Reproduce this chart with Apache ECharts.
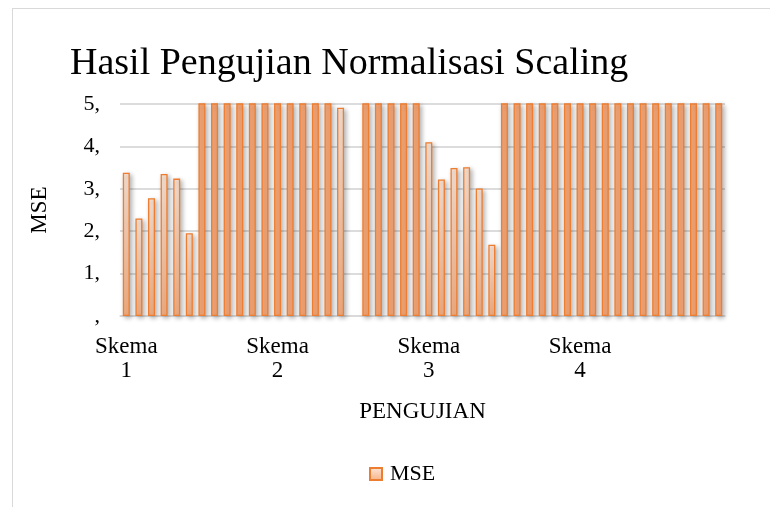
<!DOCTYPE html>
<html>
<head>
<meta charset="utf-8">
<script src="https://cdn.jsdelivr.net/npm/echarts@6/dist/echarts.min.js"></script>
<style>
    html, body { margin: 0; padding: 0; background: #fff; }
    #main { width: 770px; height: 507px; position: relative; }
    .frame {
        position: absolute; left: 12px; top: 8px; right: -10px; bottom: -10px;
        border: 1px solid #d9d9d9; pointer-events: none;
    }
</style>
</head>
<body>
<div id="main"></div>
<script>
    // data (bars above 5 are cut off by the axis)
    const skemaNames = ['Skema 1', 'Skema 2', 'Skema 3', 'Skema 4'];
    const testsPerSkema = 12;
    const mse = [
        3.38, 2.30, 2.78, 3.35, 3.24, 1.95, 9.8, 12.4, 8.7, 14.1, 10.6, 11.2,
        13.5, 9.1, 15.3, 10.2, 12.8, 4.91, null, 11.7, 9.4, 13.9, 10.8, 12.1,
        4.10, 3.22, 3.49, 3.51, 3.01, 1.68, 18.2, 21.5, 16.7, 19.9, 22.4, 17.6,
        20.3, 18.8, 23.1, 19.4, 21.9, 17.2, 20.7, 22.8, 18.4, 19.6, 21.2, 20.1
    ];
    const yTicks = [0, 1, 2, 3, 4, 5];

    const yMax = yTicks[yTicks.length - 1];
    const categories = skemaNames.flatMap(s => Array(testsPerSkema).fill(s));
    const font = "'Liberation Serif', 'Times New Roman', serif";

    const paleFill = new echarts.graphic.LinearGradient(0, 0, 0, 1, [
        { offset: 0, color: '#fde7d9' },
        { offset: 1, color: '#f8b285' }
    ]);

    let myChart = echarts.init(document.getElementById('main'));
    let option = {
        animation: false,
        textStyle: { fontFamily: font, color: '#000' },
        title: {
            text: 'Hasil Pengujian Normalisasi Scaling',
            left: 70,
            top: 45,
            padding: 0,
            textStyle: { fontFamily: font, fontSize: 38, fontWeight: 'normal', color: '#000' }
        },
        grid: { left: 120, right: 45, top: 104, bottom: 191, containLabel: false },
        legend: {
            bottom: 17,
            left: 364,
            icon: 'rect',
            itemWidth: 12,
            itemHeight: 12,
            itemGap: 4,
            textStyle: { fontFamily: font, fontSize: 22, color: '#000', padding: [0, 0, 0, 3] },
            data: ['MSE']
        },
        xAxis: {
            type: 'category',
            data: categories,
            name: 'PENGUJIAN',
            nameLocation: 'middle',
            nameGap: 84,
            nameTextStyle: { fontFamily: font, fontSize: 23, color: '#000' },
            axisLine: { lineStyle: { color: '#d9d9d9', width: 1.5 } },
            axisTick: { show: false },
            axisLabel: {
                interval: testsPerSkema - 1,
                margin: 19,
                fontSize: 23,
                lineHeight: 24,
                color: '#000',
                formatter: v => v.replace(' ', '\n')
            }
        },
        yAxis: {
            type: 'value',
            min: 0,
            max: yMax,
            interval: 1,
            name: 'MSE',
            nameLocation: 'middle',
            nameGap: 69,
            nameTextStyle: { fontFamily: font, fontSize: 23, color: '#000' },
            axisLine: { show: false },
            axisTick: { show: false },
            axisLabel: {
                margin: 20,
                fontSize: 22,
                color: '#000',
                formatter: v => (v === 0 ? ',' : v + ',')
            },
            splitLine: { lineStyle: { color: '#d0d0d0', width: 1.5 } }
        },
        series: [{
            name: 'MSE',
            type: 'bar',
            clip: true,
            barWidth: 7,
            data: mse.map(v => (v !== null && v > yMax
                ? { value: v, itemStyle: { color: '#f9a978' } }
                : v)),
            itemStyle: {
                color: paleFill,
                borderColor: '#ed7d31',
                borderWidth: 1.3,
                shadowColor: 'rgba(0,0,0,0.3)',
                shadowBlur: 5,
                shadowOffsetX: 2,
                shadowOffsetY: 2
            }
        }]
    };
    myChart.setOption(option);
</script>
<div class="frame"></div>
</body>
</html>
